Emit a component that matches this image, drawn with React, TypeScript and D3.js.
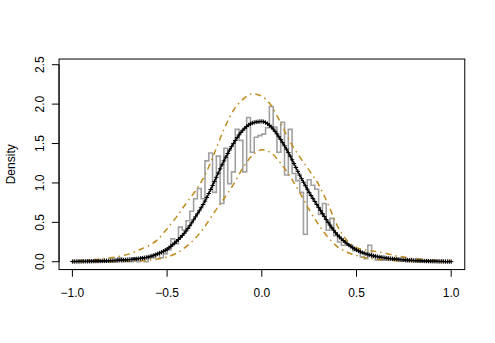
import React, { useEffect, useRef, useState } from "react";
import * as d3 from "d3";

const W = 495;
const H = 343;

// Histogram (density) : bins of width 0.02 starting at -1
const histStart = -1;
const histBinWidth = 0.02;
const histDensity = [
  0, 0, 0, 0, 0, 0, 0, 0, 0, 0, 0, 0, 0.05, 0, 0,
  0, 0.05, 0, 0.05, 0, 0.05, 0.05, 0.1, 0.05, 0.1,
  0.15, 0.29, 0.23, 0.44, 0.4, 0.52, 0.64, 0.8, 0.93, 0.8,
  1.28, 1.38, 0.88, 1.34, 0.74, 1.44, 0.99, 1.14, 1.68, 1.54,
  1.14, 1.83, 1.39, 1.58, 1.6, 1.62, 1.7, 1.97, 1.71, 1.39,
  1.77, 1.1, 1.68, 1.12, 1.03, 0.88, 0.35, 1.04, 0.97, 0.92,
  0.6, 0.74, 0.4, 0.55, 0.33, 0.25, 0.21, 0.21, 0.21, 0.14,
  0.14, 0.06, 0.04, 0.21, 0.06, 0.02, 0.02, 0.02, 0.02, 0.04,
  0.02, 0.01, 0.01, 0, 0.01, 0, 0, 0, 0, 0, 0, 0, 0, 0, 0,
];

// Curves read at x = -1, -0.95, ..., 1
const curveX = [
  -1, -0.95, -0.9, -0.85, -0.8, -0.75, -0.7, -0.65, -0.6, -0.55, -0.5,
  -0.45, -0.4, -0.35, -0.3, -0.25, -0.2, -0.15, -0.1, -0.05, 0,
  0.05, 0.1, 0.15, 0.2, 0.25, 0.3, 0.35, 0.4, 0.45, 0.5,
  0.55, 0.6, 0.65, 0.7, 0.75, 0.8, 0.85, 0.9, 0.95, 1,
];
const fitDensity = [
  0.003, 0.005, 0.007, 0.01, 0.014, 0.02, 0.028, 0.04, 0.06, 0.1, 0.16,
  0.26, 0.39, 0.57, 0.77, 1.02, 1.28, 1.5, 1.67, 1.76, 1.78,
  1.71, 1.55, 1.34, 1.1, 0.88, 0.69, 0.5, 0.34, 0.23, 0.15,
  0.1, 0.07, 0.05, 0.035, 0.025, 0.017, 0.011, 0.007, 0.004, 0.002,
];
const upperBand = [
  0.01, 0.015, 0.025, 0.035, 0.05, 0.07, 0.1, 0.15, 0.2, 0.28, 0.42,
  0.57, 0.74, 0.9, 1.1, 1.38, 1.68, 1.92, 2.06, 2.13, 2.1,
  1.98, 1.76, 1.52, 1.33, 1.16, 0.98, 0.73, 0.45, 0.27, 0.18,
  0.15, 0.13, 0.11, 0.08, 0.06, 0.04, 0.03, 0.02, 0.015, 0.01,
];
const lowerBand = [
  0, 0, 0.001, 0.002, 0.003, 0.005, 0.008, 0.012, 0.02, 0.035, 0.06,
  0.11, 0.19, 0.3, 0.45, 0.63, 0.8, 0.98, 1.19, 1.35, 1.42,
  1.38, 1.25, 1.08, 0.88, 0.66, 0.47, 0.31, 0.19, 0.12, 0.08,
  0.05, 0.035, 0.025, 0.015, 0.01, 0.006, 0.004, 0.002, 0.001, 0,
];

const xTicks = [-1, -0.5, 0, 0.5, 1];
const yTicks = [0, 0.5, 1, 1.5, 2, 2.5];
const markerStep = 0.01;
const yLabel = "Density";

const fmt = (v: number) => {
  const s = Math.abs(v).toFixed(1);
  return v < 0 ? "\u2212" + s : s;
};

export default function App() {
  const box = { left: 59.04, right: 464.76, top: 59.04, bottom: 269.56 };
  const x = d3.scaleLinear().domain([-1, 1]).range([72.4, 451.2]);
  const y = d3.scaleLinear().domain([-0.0989, 2.572]).range([box.bottom, box.top]);

  const histPts: [number, number][] = histDensity.map((d, i) => [histStart + i * histBinWidth, d]);
  histPts.push([histStart + histDensity.length * histBinWidth, histDensity[histDensity.length - 1]]);
  const histLine = d3
    .line<[number, number]>()
    .x((d) => x(d[0]))
    .y((d) => y(d[1]))
    .curve(d3.curveStepAfter);

  const curve = (vals: number[]) =>
    d3
      .line<number>()
      .x((_, i) => x(curveX[i]))
      .y((d) => y(d))
      .curve(d3.curveMonotoneX)(vals) || "";

  const pathRef = useRef<SVGPathElement>(null);
  const [marks, setMarks] = useState<[number, number][]>([]);

  useEffect(() => {
    const p = pathRef.current;
    if (!p) return;
    const total = p.getTotalLength();
    const out: [number, number][] = [];
    const n = Math.round((curveX[curveX.length - 1] - curveX[0]) / markerStep);
    for (let i = 0; i <= n; i++) {
      const tx = x(curveX[0] + i * markerStep);
      let lo = 0;
      let hi = total;
      for (let k = 0; k < 28; k++) {
        const mid = (lo + hi) / 2;
        if (p.getPointAtLength(mid).x < tx) lo = mid;
        else hi = mid;
      }
      const pt = p.getPointAtLength((lo + hi) / 2);
      out.push([pt.x, pt.y]);
    }
    setMarks(out);
  }, []);

  const gold = "#BF8A1E";
  const font = "'Liberation Sans', Arial, Helvetica, sans-serif";
  const ms = 2.2;

  return (
    <svg
      width={W}
      height={H}
      style={{ position: "absolute", left: 0, top: 0, background: "#fff" }}
      fontFamily={font}
      fontSize={12}
    >
      <rect x={0} y={0} width={W} height={H} fill="#fff" />
      <path d={histLine(histPts) || ""} fill="none" stroke="#a0a0a0" strokeWidth={1.6} />
      <path d={curve(upperBand)} fill="none" stroke={gold} strokeWidth={1.5} strokeDasharray="1.5 4 6 4" />
      <path d={curve(lowerBand)} fill="none" stroke={gold} strokeWidth={1.5} strokeDasharray="1.5 4 6 4" />
      <path ref={pathRef} d={curve(fitDensity)} fill="none" stroke="#000" strokeWidth={1.3} />
      <g stroke="#000" strokeWidth={1}>
        {marks.map((m, i) => (
          <path key={i} d={`M${m[0] - ms},${m[1]}H${m[0] + ms}M${m[0]},${m[1] - ms}V${m[1] + ms}`} />
        ))}
      </g>
      <rect
        x={box.left}
        y={box.top}
        width={box.right - box.left}
        height={box.bottom - box.top}
        fill="none"
        stroke="#000"
        strokeWidth={1}
      />
      {/* x axis */}
      <g stroke="#000" strokeWidth={1}>
        <line x1={x(xTicks[0])} x2={x(xTicks[xTicks.length - 1])} y1={box.bottom} y2={box.bottom} />
        {xTicks.map((t) => (
          <line key={t} x1={x(t)} x2={x(t)} y1={box.bottom} y2={box.bottom + 7.2} />
        ))}
      </g>
      {xTicks.map((t) => (
        <text key={t} x={x(t)} y={296.5} textAnchor="middle" fill="#000">
          {fmt(t)}
        </text>
      ))}
      {/* y axis */}
      <g stroke="#000" strokeWidth={1}>
        <line x1={box.left} x2={box.left} y1={y(yTicks[0])} y2={y(yTicks[yTicks.length - 1])} />
        {yTicks.map((t) => (
          <line key={t} x1={box.left} x2={box.left - 7.2} y1={y(t)} y2={y(t)} />
        ))}
      </g>
      {yTicks.map((t) => (
        <text
          key={t}
          transform={`translate(${43.5},${y(t)}) rotate(-90)`}
          textAnchor="middle"
          fill="#000"
        >
          {fmt(t)}
        </text>
      ))}
      <text transform={`translate(${14.5},${(box.top + box.bottom) / 2}) rotate(-90)`} textAnchor="middle" fill="#000">
        {yLabel}
      </text>
    </svg>
  );
}
